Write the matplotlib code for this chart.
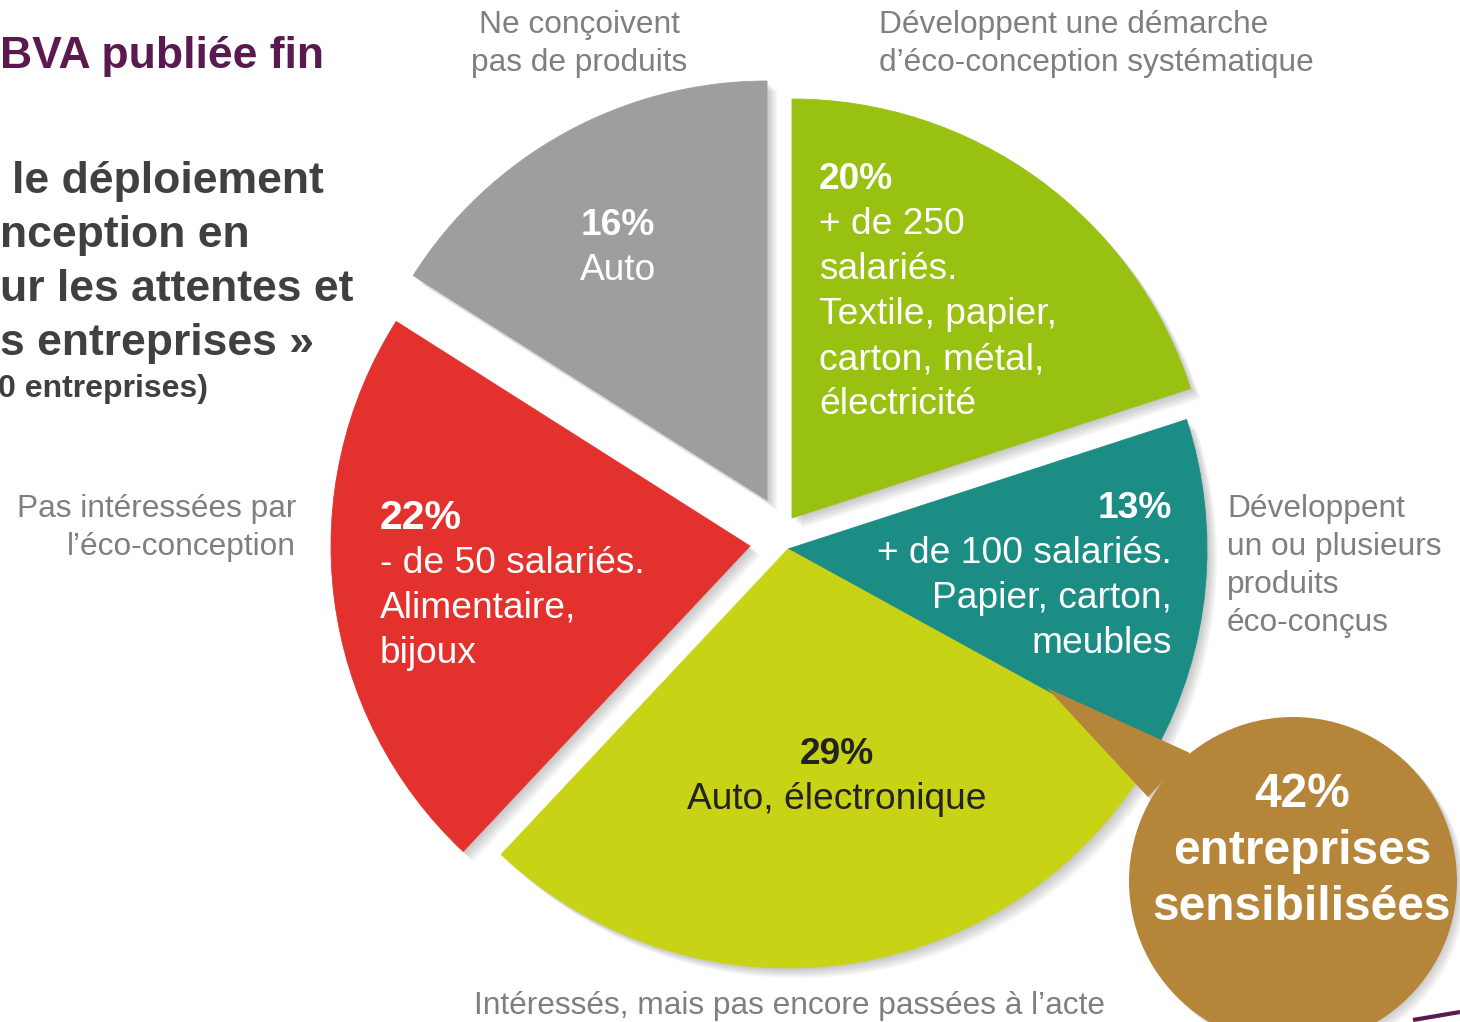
import matplotlib
matplotlib.use("Agg")
import matplotlib.pyplot as plt
from matplotlib.patches import Shadow, Circle, Polygon

# Données du camembert (ordre horaire depuis midi)
shares = [20, 13, 29, 22, 16]
colors = ["#99C112", "#1B8D85", "#C8D315", "#E3312E", "#9D9EA0"]
apex = [(792, 518), (788, 549), (788, 549), (750, 546), (767, 500)]

green_lines = ["20%", "+ de 250", "salariés.", "Textile, papier,", "carton, métal,", "électricité"]
teal_lines = ["13%", "+ de 100 salariés.", "Papier, carton,", "meubles"]
yellow_lines = ["29%", "Auto, électronique"]
red_lines = ["22%", "- de 50 salariés.", "Alimentaire,", "bijoux"]
gray_lines = ["16%", "Auto"]
bubble_lines = ["42%", "entreprises", "sensibilisées"]

H = 1022
FONT = "Liberation Sans"
plt.rcParams["font.family"] = [FONT, "DejaVu Sans"]


def py(y):
    return H - y


def draw_lines(ax, x, y0, step, txts, size, color, ha, bold_first=False,
               bold_all=False, first_size=None):
    for i, t in enumerate(txts):
        s = first_size if (i == 0 and first_size) else size
        px = s * 100 / 72
        w = "bold" if (bold_all or (bold_first and i == 0)) else "normal"
        ax.text(x, py(y0 + i * step + 0.36 * px), t, fontsize=s, color=color,
                ha=ha, va="baseline", fontweight=w, zorder=6)


fig = plt.figure(figsize=(14.6, 10.22), dpi=100)
ax = fig.add_axes([0, 0, 1, 1])

wedges, _ = ax.pie(shares, colors=colors, startangle=90, counterclock=False,
                   radius=419, center=(787, py(549)), wedgeprops=dict(linewidth=0))
for w, c, (x, y) in zip(wedges, colors, apex):
    w.set_center((x, py(y)))
    w.set_zorder(2)
    w.set_edgecolor(c)
    w.set_linewidth(0.6)
    for k in range(1, 7):
        ax.add_patch(Shadow(w, ox=k * 1.2, oy=-k * 1.2, facecolor="#555555",
                            edgecolor="none", alpha=0.06, zorder=1))

# Bulle
brown = "#B5863A"
bubble = Circle((1293, py(881)), 164, facecolor=brown, linewidth=0, zorder=4)
tail = Polygon([(1047, py(688)), (1190, py(753)), (1148, py(797))],
               closed=True, facecolor=brown, linewidth=0, zorder=4)
for p in (bubble, tail):
    ax.add_patch(p)
    for k in range(1, 6):
        ax.add_patch(Shadow(p, ox=k * 1.2, oy=-k * 1.2, facecolor="#555555",
                            edgecolor="none", alpha=0.06, zorder=3))

# Trait violet en bas à droite
ax.plot([1413, 1460], [py(1020), py(1012)], color="#5B1A4F", lw=3, zorder=5,
        solid_capstyle="butt")

ax.set_xlim(0, 1460)
ax.set_ylim(0, H)
ax.set_aspect("equal")
ax.axis("off")

# Textes dans les parts
s_in = 26.7
draw_lines(ax, 819, 176, 45, green_lines, s_in, "white", "left", bold_first=True)
draw_lines(ax, 1172, 505, 45, teal_lines, s_in, "white", "right", bold_first=True)
draw_lines(ax, 837, 751, 45, yellow_lines, s_in, "#222222", "center", bold_first=True)
draw_lines(ax, 380, 514, 45.3, red_lines, s_in, "white", "left", bold_first=True,
           first_size=29.5)
draw_lines(ax, 618, 222, 45, gray_lines, s_in, "white", "center", bold_first=True)
draw_lines(ax, 1302, 790, 56.5, bubble_lines, 34.5, "white", "center", bold_all=True)

# Libellés extérieurs
s_out = 22.8
lab = "#7F7F7F"
draw_lines(ax, 579, 22, 38, ["Ne conçoivent", "pas de produits"], s_out, lab, "center")
draw_lines(ax, 879, 22, 38, ["Développent une démarche", "d’éco-conception systématique"],
           s_out, lab, "left")
draw_lines(ax, 296, 506, 38, ["Pas intéressées par", "l’éco-conception"], s_out, lab, "right")
draw_lines(ax, 1227, 506, 38, ["Développent", "un ou plusieurs", "produits", "éco-conçus"],
           s_out, lab, "left")
draw_lines(ax, 790, 1003, 38, ["Intéressés, mais pas encore passées à l’acte"], s_out, lab, "center")

# Titre (coupé à gauche)
s_t = 32.0
draw_lines(ax, 0, 52, 54, ["BVA publiée fin"], s_t, "#5B1A4F", "left", bold_all=True)
draw_lines(ax, 12, 177, 54, ["le déploiement"], s_t, "#404040", "left", bold_all=True)
draw_lines(ax, 0, 231, 54, ["nception en", "ur les attentes et", "s entreprises »"],
           s_t, "#404040", "left", bold_all=True)
draw_lines(ax, -2, 385, 40, ["0 entreprises)"], 23, "#404040", "left", bold_all=True)

fig.savefig("out.png", dpi=100)
